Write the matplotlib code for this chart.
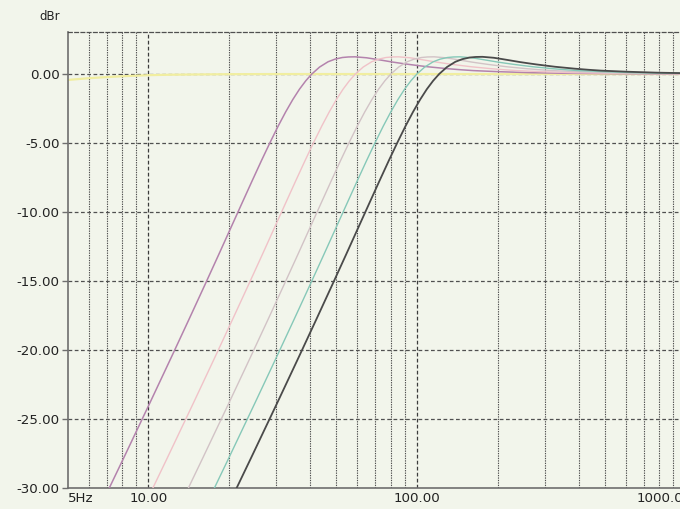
import numpy as np
import matplotlib
matplotlib.use("Agg")
import matplotlib.pyplot as plt
from matplotlib.ticker import FixedLocator, NullFormatter

# ---------- DATA ----------
# all five high-pass curves share the same 2nd-order shape (peak ~+1.2 dB),
# only shifted in frequency -> one dB list, one frequency list per curve
HP_DB = [-36.77, -32.86, -27.79, -23.82, -20.54, -17.74, -15.29, -13.11, -11.14, -9.36,
         -7.74, -6.27, -4.95, -3.77, -2.74, -1.85, -1.10, -0.49, 0.00, 0.51,
         0.89, 1.08, 1.20, 1.24, 1.25, 1.18, 1.10, 1.02, 0.87, 0.78,
         0.70, 0.61, 0.53, 0.39, 0.31, 0.25, 0.17, 0.10, 0.06, 0.03,
         0.01, 0.00]

FREQ_MAGENTA = [4.87, 6.09, 8.12, 10.15, 12.18, 14.21, 16.24, 18.27, 20.3, 22.33,
                24.36, 26.39, 28.42, 30.45, 32.48, 34.51, 36.54, 38.57, 40.6, 43.44,
                46.69, 49.53, 52.78, 55.62, 58.87, 64.96, 69.02, 73.08, 81.2, 87.29,
                93.38, 101.5, 109.62, 129.92, 146.16, 162.4, 203.0, 263.9, 345.1, 487.2,
                730.8, 1218.0]
FREQ_PINK = [7.08, 8.85, 11.8, 14.75, 17.7, 20.65, 23.6, 26.55, 29.5, 32.45,
             35.4, 38.35, 41.3, 44.25, 47.2, 50.15, 53.1, 56.05, 59.0, 63.13,
             67.85, 71.98, 76.7, 80.83, 85.55, 94.4, 100.3, 106.2, 118.0, 126.85,
             135.7, 147.5, 159.3, 188.8, 212.4, 236.0, 295.0, 383.5, 501.5, 708.0,
             1062.0, 1770.0]
FREQ_LAVENDER = [9.6, 12, 16, 20, 24, 28, 32, 36, 40, 44,
                 48, 52, 56, 60, 64, 68, 72, 76, 80, 85.6,
                 92, 97.6, 104, 109.6, 116, 128, 136, 144, 160, 172,
                 184, 200, 216, 256, 288, 320, 400, 520, 680, 960,
                 1440, 2400]
FREQ_TEAL = [12, 15, 20, 25, 30, 35, 40, 45, 50, 55,
             60, 65, 70, 75, 80, 85, 90, 95, 100, 107,
             115, 122, 130, 137, 145, 160, 170, 180, 200, 215,
             230, 250, 270, 320, 360, 400, 500, 650, 850, 1200,
             1800, 3000]
FREQ_DARK = [14.52, 18.15, 24.2, 30.25, 36.3, 42.35, 48.4, 54.45, 60.5, 66.55,
             72.6, 78.65, 84.7, 90.75, 96.8, 102.85, 108.9, 114.95, 121.0, 129.47,
             139.15, 147.62, 157.3, 165.77, 175.45, 193.6, 205.7, 217.8, 242.0, 260.15,
             278.3, 302.5, 326.7, 387.2, 435.6, 484.0, 605.0, 786.5, 1028.5, 1452.0,
             2178.0, 3630.0]

# nearly flat reference trace
FREQ_FLAT = [5, 6, 7, 8, 10, 12, 15, 20, 30, 50, 100, 1000, 1100]
DB_FLAT = [-0.43, -0.30, -0.22, -0.16, -0.08, -0.05, -0.03, -0.01, 0, 0, 0, 0, 0]

Y_TICKS = [0, -5, -10, -15, -20, -25, -30]
Y_LABELS = ["0.00", "-5.00", "-10.00", "-15.00", "-20.00", "-25.00", "-30.00"]
X_TICKS = [5, 10, 100, 1000]
X_LABELS = ["5Hz", "10.00", "100.00", ""]   # 1000 label drawn separately
LAST_LABEL = "1000.00"
X_MINOR = [6, 7, 8, 9, 20, 30, 40, 50, 60, 70, 80, 90,
           200, 300, 400, 500, 600, 700, 800, 900]

# ---------- STYLE ----------
BG = "#f2f5eb"
GRID_C = "#505050"
SPINE_C = "#6e6e6e"
TXT_C = "#222222"
FONT = ["DejaVu Sans"]
FS = 9.6
W, H = 680, 509
# ---------------------------

def main():
    plt.rcParams["font.family"] = FONT
    fig = plt.figure(figsize=(W / 100, H / 100), dpi=100, facecolor=BG)
    # plot area runs past the right edge (1000.00 label is cut in the original)
    ax = fig.add_axes([67.5 / W, 21.3 / H, 629 / W, 455.7 / H])
    ax.set_facecolor(BG)
    ax.set_xscale("log")
    ax.set_xlim(5, 1100)
    ax.set_ylim(-30, 3.05)

    # grid
    for y in Y_TICKS[:-1]:
        ax.axhline(y, color=GRID_C, lw=0.9, ls=(0, (3, 2)), zorder=1)
    for x in X_MINOR:
        ax.axvline(x, color=GRID_C, lw=0.8, ls=(0, (1.2, 1.0)), zorder=1)
    for x in X_TICKS[1:]:
        ax.axvline(x, color="#3c3c3c", lw=0.9, ls=(0, (3, 1.8)), zorder=1)

    # curves
    ax.plot(FREQ_FLAT, DB_FLAT, color="#f1eea0", lw=1.6, zorder=2)
    ax.plot(FREQ_MAGENTA, HP_DB, color="#b483ad", lw=1.1, zorder=3)
    ax.plot(FREQ_PINK, HP_DB, color="#f0c2c8", lw=1.0, zorder=3)
    ax.plot(FREQ_LAVENDER, HP_DB, color="#d2c3c6", lw=1.0, zorder=3)
    ax.plot(FREQ_TEAL, HP_DB, color="#86c8b8", lw=1.0, zorder=3)
    ax.plot(FREQ_DARK, HP_DB, color="#4a4a4a", lw=1.3, zorder=4)

    # spines
    for s in ["left", "bottom"]:
        ax.spines[s].set_color(SPINE_C)
        ax.spines[s].set_linewidth(1.2)
    ax.spines["top"].set_color(GRID_C)
    ax.spines["top"].set_linewidth(0.9)
    ax.spines["top"].set_linestyle((0, (3, 2)))
    ax.spines["right"].set_visible(False)

    # ticks
    ax.set_yticks(Y_TICKS)
    ax.set_yticklabels(Y_LABELS)
    ax.tick_params(axis="y", length=4, width=1, color=SPINE_C, pad=1.5,
                   labelsize=FS, labelcolor=TXT_C)
    ax.xaxis.set_major_locator(FixedLocator(X_TICKS))
    ax.xaxis.set_minor_locator(FixedLocator(X_MINOR))
    ax.xaxis.set_minor_formatter(NullFormatter())
    ax.set_xticklabels(X_LABELS)
    ax.tick_params(axis="x", which="both", length=0, pad=3,
                   labelsize=FS, labelcolor=TXT_C)
    ax.get_xticklabels()[0].set_horizontalalignment("left")
    # last label sits left of its gridline in the original
    ax.annotate(LAST_LABEL, xy=(X_TICKS[-1], 0), xycoords=("data", "axes fraction"),
                xytext=(-15, -3), textcoords="offset points",
                ha="center", va="top", fontsize=FS, color=TXT_C,
                annotation_clip=False)

    fig.text(50 / W, 1 - 17 / H, "dBr", ha="center", va="center",
             fontsize=8.5, color=TXT_C)

    fig.savefig("out.png", dpi=100, facecolor=BG)
    plt.close(fig)

if __name__ == "__main__":
    main()
